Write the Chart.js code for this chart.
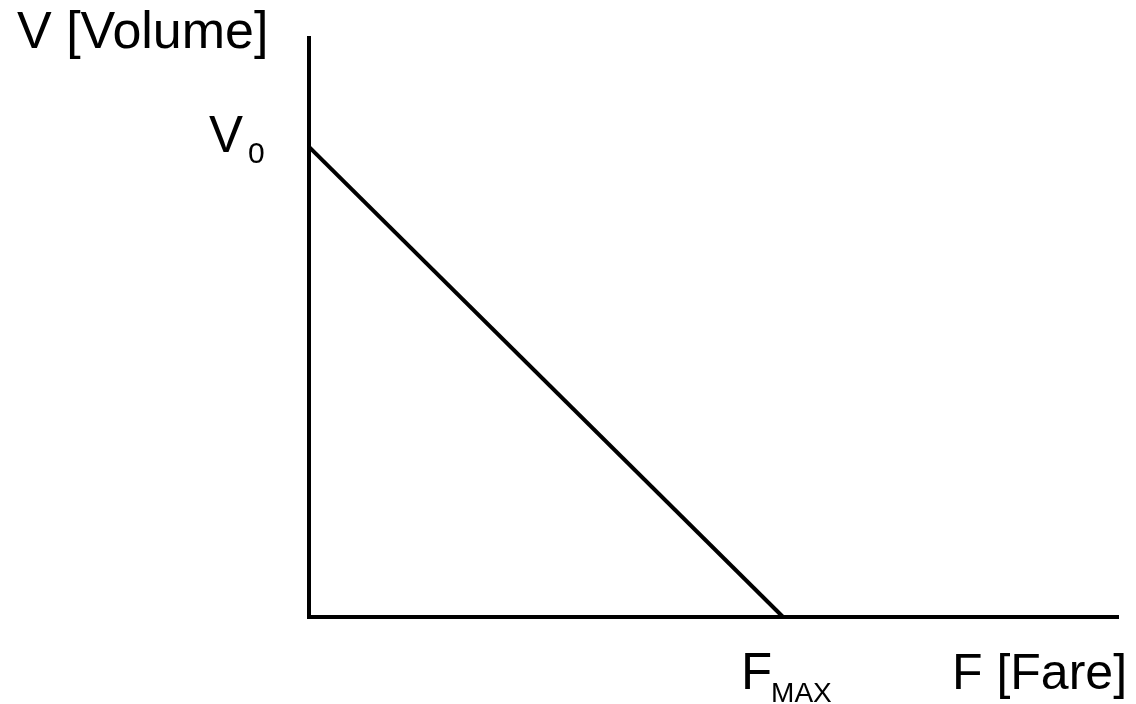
<!DOCTYPE html>
<html>
<head>
<meta charset="utf-8">
<script src="https://cdn.jsdelivr.net/npm/chart.js@4.4.0/dist/chart.umd.min.js"></script>
<style>
  html, body { margin: 0; padding: 0; background: #fff; }
  #wrap { width: 1136px; height: 704px; position: relative; }
</style>
</head>
<body>
<div id="wrap"><canvas id="chart"></canvas></div>
<script>
// demand curve: volume falls linearly with fare
const fares = [0, 58.6];
const volumes = [81.2, 0];
const xRange = [0, 100];
const yRange = [0, 100];
const axisTitles = { y: 'V [Volume]', x: 'F [Fare]' };
const yMark = { value: volumes[0], main: 'V', sub: '0' };
const xMark = { value: fares[1], main: 'F', sub: 'MAX' };

const FONT = '"Liberation Sans", Arial, sans-serif';

// labels with subscripts, placed through the scales
const labelPlugin = {
  id: 'labels',
  afterDraw(chart) {
    const ctx = chart.ctx;
    const xs = chart.scales.x, ys = chart.scales.y;
    ctx.save();
    ctx.fillStyle = '#000';
    ctx.textBaseline = 'alphabetic';
    ctx.textAlign = 'left';

    ctx.font = '52px ' + FONT;
    ctx.fillText(axisTitles.y, 17, 48);
    ctx.font = '50px ' + FONT;
    ctx.fillText(axisTitles.x, 952, 689);

    // V0 on the y axis
    const py = ys.getPixelForValue(yMark.value);
    ctx.font = '51px ' + FONT;
    ctx.fillText(yMark.main, 209, py + 5);
    ctx.font = '30px ' + FONT;
    ctx.fillText(yMark.sub, 248, py + 16);

    // FMAX under the x axis
    const px = xs.getPixelForValue(xMark.value);
    ctx.font = '51px ' + FONT;
    ctx.fillText(xMark.main, px - 42, 689);
    ctx.font = '28px ' + FONT;
    ctx.fillText(xMark.sub, px - 12, 702);
    ctx.restore();
  }
};

new Chart(document.getElementById('chart'), {
  type: 'scatter',
  data: {
    datasets: [{
      data: fares.map((f, i) => ({ x: f, y: volumes[i] })),
      showLine: true,
      borderColor: '#000',
      borderWidth: 4,
      pointRadius: 0,
      clip: false
    }]
  },
  options: {
    responsive: true,
    maintainAspectRatio: false,
    animation: false,
    layout: { padding: { left: 309, top: 38, right: 18, bottom: 87 } },
    plugins: { legend: { display: false }, tooltip: { enabled: false } },
    scales: {
      x: {
        min: xRange[0], max: xRange[1],
        ticks: { display: false },
        grid: { display: false, drawTicks: false },
        border: { display: true, color: '#000', width: 4 }
      },
      y: {
        min: yRange[0], max: yRange[1],
        ticks: { display: false },
        grid: { display: false, drawTicks: false },
        border: { display: true, color: '#000', width: 4 }
      }
    }
  },
  plugins: [labelPlugin]
});
</script>
</body>
</html>
